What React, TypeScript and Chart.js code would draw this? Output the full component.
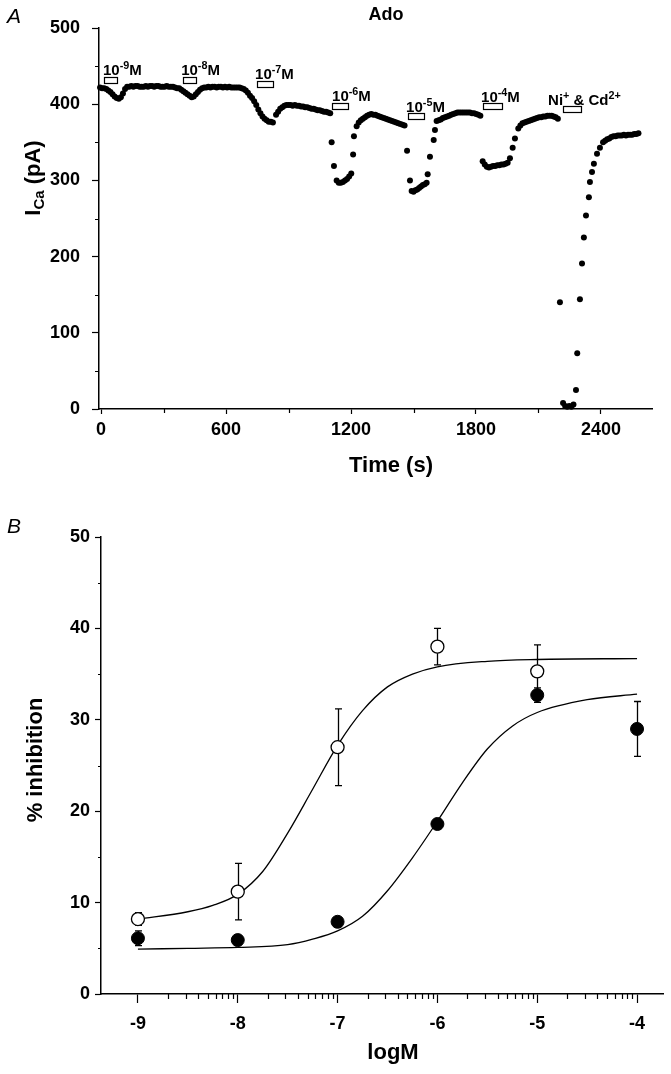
import React, { useEffect, useRef } from 'react';
import { Chart, registerables } from 'chart.js';

Chart.register(...registerables);

const FONT = '"Liberation Sans", Arial, Helvetica, sans-serif';

// ---------------- Panel A: ICa time course (Ado) ----------------
const tRest = [
  -5, 5, 15, 25, 35, 45, 55, 65, 75, 85,
  95, 105, 115, 125, 135, 145, 155, 165, 175, 185,
  195, 205, 215, 225, 235, 245, 255, 265, 275, 285,
  295, 305, 315, 325, 335, 345, 355, 365, 375, 385,
  395, 405, 415, 425, 435, 445, 455, 465, 475, 485,
  495, 505, 515, 525, 535, 545, 555, 565, 575, 585,
  595, 605, 615, 625, 635, 645, 655, 665, 675, 685,
  695, 705, 715, 725, 735, 745, 755, 765, 775, 785,
  795, 805, 815, 825,
  840, 850, 860, 870, 880, 890, 900, 910, 920, 930,
  940, 950, 960, 970, 980, 990, 1000, 1010, 1020, 1030,
  1040, 1050, 1060, 1070, 1080, 1090, 1100,
];
const iRest = [
  422, 421, 421, 420, 418, 416, 413, 410, 408, 407,
  409, 414, 420, 423, 423, 424, 423, 424, 424, 423,
  423, 423, 424, 423, 424, 424, 423, 424, 424, 423,
  423, 423, 424, 423, 423, 423, 422, 421, 421, 419,
  417, 415, 413, 411, 409, 410, 413, 416, 419, 421,
  422, 422, 423, 422, 423, 423, 422, 423, 423, 422,
  423, 422, 423, 422, 422, 422, 422, 422, 421, 420,
  418, 415, 411, 408, 404, 399, 393, 388, 384, 381,
  379, 377, 377, 376,
  386, 390, 394, 396, 398, 399, 399, 399, 398, 399,
  398, 398, 397, 397, 396, 396, 395, 394, 394, 393,
  392, 392, 391, 390, 390, 389, 388,
];
const t6 = [
  1107, 1118, 1131, 1141, 1151, 1161, 1171, 1181, 1191, 1201,
  1210, 1214, 1227, 1237, 1247, 1257, 1267, 1277, 1287, 1297,
  1307, 1317, 1327, 1337, 1347, 1357, 1367, 1377, 1387, 1397,
  1407, 1417, 1427, 1437, 1447, 1457,
];
const i6 = [
  350, 319, 300, 297, 297, 298, 300, 302, 305, 309,
  334, 358, 371, 376, 379, 381, 383, 385, 386, 387,
  386, 386, 385, 384, 383, 382, 381, 380, 379, 378,
  377, 376, 375, 374, 373, 372,
];
const t5 = [
  1469, 1483, 1491, 1500, 1509, 1518, 1527, 1536, 1545, 1554,
  1563, 1568, 1579, 1597, 1603, 1611, 1621, 1631, 1641, 1651,
  1661, 1671, 1681, 1691, 1701, 1711, 1721, 1731, 1741, 1751,
  1761, 1771, 1781, 1791, 1801, 1811, 1821,
];
const i5 = [
  339, 300, 286, 285, 287, 288, 290, 292, 294, 295,
  297, 308, 331, 353, 366, 378, 379, 380, 382, 383,
  384, 385, 386, 387, 388, 389, 389, 389, 389, 389,
  389, 389, 388, 388, 387, 386, 385,
];
const t4 = [
  1832, 1842, 1852, 1862, 1872, 1882, 1892, 1902, 1912, 1922,
  1932, 1942, 1952, 1963, 1976, 1987, 2003, 2013, 2023, 2033,
  2043, 2053, 2063, 2073, 2083, 2093, 2103, 2113, 2123, 2133,
  2143, 2153, 2163, 2173, 2183, 2193,
];
const i4 = [
  325, 321, 318, 317, 318, 319, 319, 320, 320, 321,
  321, 322, 323, 329, 343, 355, 368, 372, 375, 376,
  377, 378, 379, 380, 381, 382, 383, 383, 384, 384,
  385, 385, 385, 384, 383, 381,
];
const tNiCd = [
  2203, 2218, 2228, 2238, 2248, 2258, 2268, 2280, 2286, 2299,
  2309, 2318, 2328, 2342, 2347, 2357, 2366, 2381, 2395, 2410,
  2420, 2430, 2440, 2450, 2460, 2470, 2480, 2490, 2500, 2510,
  2520, 2530, 2540, 2550, 2560, 2570, 2580,
];
const iNiCd = [
  140, 8, 4, 3, 4, 3, 6, 25, 73, 144,
  191, 225, 254, 278, 298, 311, 322, 335, 343, 350,
  352, 354, 355, 357, 358, 358, 359, 359, 359, 360,
  359, 360, 360, 360, 361, 361, 362,
];

const xTicksA = [0, 600, 1200, 1800, 2400];
const xMinorA = [300, 900, 1500, 2100];
const yTicksA = [0, 100, 200, 300, 400, 500];
const yMinorA = [50, 150, 250, 350, 450];

// drug application bars (time range in s, level in pA)
const drugStart = [14, 394, 749, 1109, 1474, 1834, 2218];
const drugEnd = [77, 456, 826, 1186, 1550, 1925, 2304];
const drugLevel = [436, 436, 431, 402, 388, 401, 397];
const drugText: [string, boolean][][] = [
  [['10', false], ['-9', true], ['M', false]],
  [['10', false], ['-8', true], ['M', false]],
  [['10', false], ['-7', true], ['M', false]],
  [['10', false], ['-6', true], ['M', false]],
  [['10', false], ['-5', true], ['M', false]],
  [['10', false], ['-4', true], ['M', false]],
  [['Ni', false], ['+', true], [' & Cd', false], ['2+', true]],
];
const drugTextShift = [-1, -2, -2, 0, -2, -2, -15];

// ---------------- Panel B: concentration-response ----------------
const logM = [-9, -8, -7, -6, -5, -4];
const openMean = [8.2, 11.2, 27.0, 38.0, 35.3];
const openErr = [0.7, 3.1, 4.2, 2.0, 2.9];
const filledMean = [6.1, 5.9, 7.9, 18.6, 32.7, 29.0];
const filledErr = [0.8, 0.3, 0.3, 0.5, 0.8, 3.0];
const openFitX = [-9, -8.5, -8.25, -8, -7.75, -7.5, -7.25, -7, -6.75, -6.5, -6.25, -6, -5.5, -5, -4];
const openFitY = [8.2, 9.0, 9.7, 10.9, 13.4, 17.6, 22.4, 27.2, 31.0, 33.6, 35.0, 35.8, 36.4, 36.6, 36.7];
const filledFitX = [-9, -8.5, -8, -7.5, -7.25, -7, -6.75, -6.5, -6.25, -6, -5.75, -5.5, -5.25, -5, -4.5, -4];
const filledFitY = [4.9, 5.0, 5.1, 5.4, 6.0, 6.9, 8.5, 11.3, 14.9, 18.9, 23.1, 26.8, 29.3, 30.8, 32.2, 32.8];
const xTicksB = [-9, -8, -7, -6, -5, -4];
const xMinorFactorsB = [2, 3, 4, 5, 6, 7, 8, 9];
const yTicksB = [0, 10, 20, 30, 40, 50];
const yMinorB = [5, 15, 25, 35, 45];

const pairs = (xs: number[], ys: number[]) => ys.map((y, i) => ({ x: xs[i], y }));

function drawParts(ctx: CanvasRenderingContext2D, parts: [string, boolean][], x: number, base: number, size: number) {
  let cx = x;
  ctx.textAlign = 'left';
  ctx.textBaseline = 'alphabetic';
  for (const [txt, sup] of parts) {
    const fs = sup ? size * 0.72 : size;
    ctx.font = `bold ${fs}px ${FONT}`;
    ctx.fillText(txt, cx, sup ? base - size * 0.42 : base);
    cx += ctx.measureText(txt).width;
  }
}

const panelAPlugin = {
  id: 'panelA',
  afterDraw(chart: any) {
    const { ctx, chartArea } = chart;
    const xs = chart.scales.x;
    const ys = chart.scales.y;
    ctx.save();
    ctx.strokeStyle = '#000';
    ctx.fillStyle = '#000';
    ctx.lineWidth = 1.2;
    ctx.beginPath();
    yMinorA.forEach((v) => {
      const py = Math.round(ys.getPixelForValue(v)) + 0.5;
      ctx.moveTo(chartArea.left - 4, py);
      ctx.lineTo(chartArea.left, py);
    });
    xMinorA.forEach((v) => {
      const px = Math.round(xs.getPixelForValue(v)) + 0.5;
      ctx.moveTo(px, chartArea.bottom);
      ctx.lineTo(px, chartArea.bottom + 4);
    });
    ctx.stroke();

    // drug bars + labels
    drugStart.forEach((s, i) => {
      const x0 = xs.getPixelForValue(s);
      const x1 = xs.getPixelForValue(drugEnd[i]);
      const yTop = ys.getPixelForValue(drugLevel[i]);
      ctx.fillStyle = '#fff';
      ctx.fillRect(x0, yTop, x1 - x0, 6);
      ctx.strokeStyle = '#000';
      ctx.lineWidth = 1.2;
      ctx.strokeRect(Math.round(x0) + 0.5, Math.round(yTop) + 0.5, Math.round(x1 - x0), 6);
      ctx.fillStyle = '#000';
      drawParts(ctx, drugText[i], x0 + drugTextShift[i], yTop - 1.5, 15);
    });

    // panel letter, title, axis titles
    ctx.fillStyle = '#000';
    ctx.textBaseline = 'alphabetic';
    ctx.textAlign = 'left';
    ctx.font = `italic 21px ${FONT}`;
    ctx.fillText('A', 7, 23);
    ctx.textAlign = 'center';
    ctx.font = `bold 18px ${FONT}`;
    ctx.fillText('Ado', 386, 20);
    ctx.font = `bold 22px ${FONT}`;
    ctx.fillText('Time (s)', 391, 472);

    // rotated y title: I_Ca (pA)
    ctx.save();
    ctx.translate(40, 178);
    ctx.rotate(-Math.PI / 2);
    const parts: [string, number, number][] = [['I', 22, 0], ['Ca', 15, 4], [' (pA)', 22, 0]];
    let total = 0;
    parts.forEach(([t, s]) => { ctx.font = `bold ${s}px ${FONT}`; total += ctx.measureText(t).width; });
    let cx = -total / 2;
    ctx.textAlign = 'left';
    parts.forEach(([t, s, dy]) => {
      ctx.font = `bold ${s}px ${FONT}`;
      ctx.fillText(t, cx, dy);
      cx += ctx.measureText(t).width;
    });
    ctx.restore();
    ctx.restore();
  },
};

const panelBPlugin = {
  id: 'panelB',
  beforeDatasetsDraw(chart: any) {
    const { ctx } = chart;
    const xs = chart.scales.x;
    const ys = chart.scales.y;
    ctx.save();
    ctx.strokeStyle = '#000';
    ctx.lineWidth = 1.3;
    const bars = (means: number[], errs: number[]) => {
      means.forEach((m, i) => {
        const px = Math.round(xs.getPixelForValue(logM[i])) + 0.5;
        const yT = ys.getPixelForValue(m + errs[i]);
        const yB = ys.getPixelForValue(m - errs[i]);
        ctx.beginPath();
        ctx.moveTo(px, yT);
        ctx.lineTo(px, yB);
        ctx.moveTo(px - 3.5, yT);
        ctx.lineTo(px + 3.5, yT);
        ctx.moveTo(px - 3.5, yB);
        ctx.lineTo(px + 3.5, yB);
        ctx.stroke();
      });
    };
    bars(openMean, openErr);
    bars(filledMean, filledErr);
    ctx.restore();
  },
  afterDraw(chart: any) {
    const { ctx, chartArea } = chart;
    const xs = chart.scales.x;
    const ys = chart.scales.y;
    ctx.save();
    ctx.strokeStyle = '#000';
    ctx.lineWidth = 1.2;
    ctx.beginPath();
    yMinorB.forEach((v) => {
      const py = Math.round(ys.getPixelForValue(v)) + 0.5;
      ctx.moveTo(chartArea.left - 3, py);
      ctx.lineTo(chartArea.left, py);
    });
    xTicksB.slice(0, -1).forEach((d) => {
      xMinorFactorsB.forEach((k) => {
        const px = Math.round(xs.getPixelForValue(d + Math.log10(k))) + 0.5;
        ctx.moveTo(px, chartArea.bottom);
        ctx.lineTo(px, chartArea.bottom + 5);
      });
    });
    ctx.stroke();

    ctx.fillStyle = '#000';
    ctx.textAlign = 'left';
    ctx.textBaseline = 'alphabetic';
    ctx.font = `italic 21px ${FONT}`;
    ctx.fillText('B', 7, 33);
    ctx.textAlign = 'center';
    ctx.font = `bold 22px ${FONT}`;
    ctx.fillText('logM', 393, 559);
    ctx.save();
    ctx.translate(42, 260);
    ctx.rotate(-Math.PI / 2);
    ctx.fillText('% inhibition', 0, 0);
    ctx.restore();
    ctx.restore();
  },
};

const tickFont = { family: FONT, size: 18, weight: 'bold' as const };

export default function App() {
  const refA = useRef<HTMLCanvasElement>(null);
  const refB = useRef<HTMLCanvasElement>(null);

  useEffect(() => {
    const pointsA = [
      ...pairs(tRest, iRest),
      ...pairs(t6, i6),
      ...pairs(t5, i5),
      ...pairs(t4, i4),
      ...pairs(tNiCd, iNiCd),
    ];
    const chartA = new Chart(refA.current!, {
      type: 'scatter',
      data: {
        datasets: [
          {
            data: pointsA,
            pointRadius: 3,
            pointHoverRadius: 3,
            pointBackgroundColor: '#000',
            pointBorderWidth: 0,
            showLine: false,
            clip: false as any,
          },
        ],
      },
      options: {
        responsive: false,
        animation: false,
        devicePixelRatio: 1,
        events: [],
        layout: { padding: { left: 0, right: 19, top: 28, bottom: 0 } },
        plugins: { legend: { display: false }, tooltip: { enabled: false } },
        scales: {
          x: {
            type: 'linear',
            min: -10,
            max: 2645,
            afterFit: (s: any) => { s.height = 91; },
            afterBuildTicks: (s: any) => { s.ticks = xTicksA.map((v) => ({ value: v })); },
            ticks: { font: tickFont, color: '#000', padding: 5, maxRotation: 0, minRotation: 0, autoSkip: false, callback: (v: any) => String(v) },
            grid: { drawOnChartArea: false, drawTicks: true, tickLength: 5, tickColor: '#000', tickWidth: 1.2 },
            border: { display: true, color: '#000', width: 1.5 },
          },
          y: {
            type: 'linear',
            min: 0,
            max: 500,
            afterFit: (s: any) => { s.width = 99; },
            afterBuildTicks: (s: any) => { s.ticks = yTicksA.map((v) => ({ value: v })); },
            ticks: { font: tickFont, color: '#000', padding: 12, autoSkip: false, callback: (v: any) => String(v) },
            grid: { drawOnChartArea: false, drawTicks: true, tickLength: 7, tickColor: '#000', tickWidth: 1.2 },
            border: { display: true, color: '#000', width: 1.5 },
          },
        },
      } as any,
      plugins: [panelAPlugin],
    });

    const chartB = new Chart(refB.current!, {
      type: 'scatter',
      data: {
        datasets: [
          {
            data: pairs(openFitX, openFitY),
            showLine: true,
            pointRadius: 0,
            borderColor: '#000',
            borderWidth: 1.3,
            cubicInterpolationMode: 'monotone',
            order: 3,
          },
          {
            data: pairs(filledFitX, filledFitY),
            showLine: true,
            pointRadius: 0,
            borderColor: '#000',
            borderWidth: 1.3,
            cubicInterpolationMode: 'monotone',
            order: 3,
          },
          {
            data: pairs(logM, openMean),
            pointRadius: 6.5,
            pointBackgroundColor: '#fff',
            pointBorderColor: '#000',
            pointBorderWidth: 1.3,
            order: 1,
          },
          {
            data: pairs(logM, filledMean),
            pointRadius: 6.5,
            pointBackgroundColor: '#000',
            pointBorderColor: '#000',
            pointBorderWidth: 1,
            order: 1,
          },
        ] as any,
      },
      options: {
        responsive: false,
        animation: false,
        devicePixelRatio: 1,
        events: [],
        layout: { padding: { left: 0, right: 8, top: 37, bottom: 0 } },
        plugins: { legend: { display: false }, tooltip: { enabled: false } },
        scales: {
          x: {
            type: 'linear',
            min: -9.37,
            max: -3.74,
            afterFit: (s: any) => { s.height = 80; },
            afterBuildTicks: (s: any) => { s.ticks = xTicksB.map((v) => ({ value: v })); },
            ticks: { font: tickFont, color: '#000', padding: 10, maxRotation: 0, minRotation: 0, autoSkip: false, callback: (v: any) => String(v) },
            grid: { drawOnChartArea: false, drawTicks: true, tickLength: 9, tickColor: '#000', tickWidth: 1.2 },
            border: { display: true, color: '#000', width: 1.5 },
          },
          y: {
            type: 'linear',
            min: 0,
            max: 50,
            afterFit: (s: any) => { s.width = 101; },
            afterBuildTicks: (s: any) => { s.ticks = yTicksB.map((v) => ({ value: v })); },
            ticks: { font: tickFont, color: '#000', padding: 5, autoSkip: false, callback: (v: any) => String(v) },
            grid: { drawOnChartArea: false, drawTicks: true, tickLength: 6, tickColor: '#000', tickWidth: 1.2 },
            border: { display: true, color: '#000', width: 1.5 },
          },
        },
      } as any,
      plugins: [panelBPlugin],
    });

    return () => {
      chartA.destroy();
      chartB.destroy();
    };
  }, []);

  return (
    <div style={{ position: 'absolute', left: 0, top: 0, width: 671, height: 1074, background: '#fff' }}>
      <canvas ref={refA} width={671} height={500} style={{ position: 'absolute', left: 0, top: 0, width: 671, height: 500 }} />
      <canvas ref={refB} width={671} height={574} style={{ position: 'absolute', left: 0, top: 500, width: 671, height: 574 }} />
    </div>
  );
}
